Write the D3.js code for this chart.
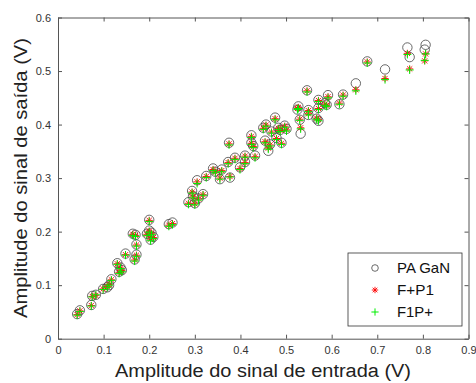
<!DOCTYPE html>
<html>
<head>
<meta charset="utf-8">
<script src="https://cdn.jsdelivr.net/npm/d3@7"></script>
<style>
  body { margin: 0; background: #fff; }
  text { font-family: "Liberation Sans", Arial, sans-serif; }
</style>
</head>
<body>
<div id="app"></div>
<script>
// input amplitude (V), shared by all series
const entrada = [
  0.042, 0.048, 0.073, 0.075, 0.083, 0.099, 0.108, 0.112, 0.117, 0.130,
  0.134, 0.137, 0.140, 0.148, 0.168, 0.172, 0.172, 0.164, 0.170, 0.200,
  0.200, 0.205, 0.209, 0.203, 0.195, 0.243, 0.251, 0.286, 0.294, 0.296,
  0.300, 0.308, 0.318, 0.305, 0.325, 0.340, 0.345, 0.359, 0.355, 0.377,
  0.375, 0.373, 0.388, 0.399, 0.410, 0.410, 0.424, 0.424, 0.428, 0.432,
  0.450, 0.456, 0.476, 0.483, 0.497, 0.454, 0.461, 0.465, 0.490, 0.479,
  0.468, 0.487, 0.501, 0.527, 0.525, 0.530, 0.532, 0.546, 0.549, 0.549,
  0.571, 0.571, 0.571, 0.567, 0.585, 0.592, 0.589, 0.617, 0.625, 0.653,
  0.678, 0.717, 0.766, 0.771, 0.806, 0.804
]
// measured output, PA GaN
const paGaN = [
  0.046, 0.053, 0.063, 0.080, 0.082, 0.093, 0.096, 0.100, 0.111, 0.141,
  0.125, 0.133, 0.128, 0.159, 0.148, 0.157, 0.176, 0.196, 0.194, 0.222,
  0.202, 0.198, 0.190, 0.185, 0.196, 0.214, 0.217, 0.255, 0.276, 0.266,
  0.253, 0.262, 0.270, 0.296, 0.304, 0.318, 0.312, 0.316, 0.298, 0.301,
  0.366, 0.330, 0.338, 0.320, 0.342, 0.330, 0.380, 0.366, 0.360, 0.342,
  0.394, 0.400, 0.413, 0.394, 0.398, 0.370, 0.351, 0.363, 0.366, 0.375,
  0.387, 0.390, 0.392, 0.434, 0.428, 0.409, 0.383, 0.464, 0.427, 0.418,
  0.446, 0.431, 0.407, 0.411, 0.440, 0.455, 0.437, 0.438, 0.456, 0.477,
  0.518, 0.503, 0.544, 0.526, 0.549, 0.540
]
// model F+P1
const fp1 = [
  0.045, 0.052, 0.062, 0.079, 0.081, 0.093, 0.097, 0.101, 0.110, 0.140,
  0.124, 0.132, 0.127, 0.157, 0.147, 0.156, 0.175, 0.195, 0.193, 0.221,
  0.201, 0.197, 0.189, 0.186, 0.195, 0.212, 0.215, 0.253, 0.274, 0.265,
  0.252, 0.261, 0.269, 0.293, 0.303, 0.316, 0.311, 0.314, 0.300, 0.303,
  0.364, 0.329, 0.337, 0.318, 0.341, 0.329, 0.378, 0.365, 0.359, 0.340,
  0.393, 0.399, 0.411, 0.393, 0.397, 0.368, 0.356, 0.362, 0.365, 0.374,
  0.386, 0.389, 0.390, 0.432, 0.430, 0.410, 0.394, 0.463, 0.426, 0.420,
  0.445, 0.430, 0.409, 0.412, 0.438, 0.452, 0.436, 0.440, 0.455, 0.465,
  0.517, 0.486, 0.533, 0.504, 0.532, 0.519
]
// model F1P+
const f1p = [
  0.044, 0.051, 0.061, 0.078, 0.082, 0.092, 0.096, 0.100, 0.109, 0.139,
  0.122, 0.131, 0.125, 0.156, 0.145, 0.154, 0.173, 0.193, 0.191, 0.219,
  0.199, 0.195, 0.187, 0.183, 0.193, 0.210, 0.213, 0.251, 0.272, 0.263,
  0.250, 0.259, 0.268, 0.290, 0.301, 0.314, 0.310, 0.312, 0.298, 0.302,
  0.362, 0.327, 0.335, 0.316, 0.339, 0.327, 0.376, 0.363, 0.357, 0.338,
  0.391, 0.397, 0.409, 0.391, 0.395, 0.366, 0.354, 0.360, 0.363, 0.372,
  0.384, 0.387, 0.388, 0.430, 0.428, 0.408, 0.392, 0.461, 0.424, 0.418,
  0.443, 0.428, 0.407, 0.410, 0.436, 0.450, 0.434, 0.438, 0.453, 0.463,
  0.515, 0.484, 0.531, 0.502, 0.532, 0.520
]
const xTicks = [0, 0.1, 0.2, 0.3, 0.4, 0.5, 0.6, 0.7, 0.8, 0.9]
const yTicks = [0, 0.1, 0.2, 0.3, 0.4, 0.5, 0.6]
const legendLabels = ["PA GaN", "F+P1", "F1P+"]

const W = 476, H = 383
const mLeft = 58, mTop = 17.5, mRight = 468.5, mBottom = 338.7
const axisColor = "#555"

const svg = d3.select("#app").append("svg")
  .attr("width", W)
  .attr("height", H)

const fx = d3.scaleLinear().domain([0, 0.9]).range([mLeft, mRight])
const fy = d3.scaleLinear().domain([0, 0.6]).range([mBottom, mTop])

const fmt = d => d === 0 ? "0" : d3.format(".1f")(d)

function styleAxis(g, showText) {
  g.select(".domain").attr("stroke", axisColor)
  g.selectAll(".tick line").attr("stroke", axisColor)
  g.selectAll(".tick text")
    .attr("fill", "#333")
    .attr("font-size", 11)
    .attr("font-family", "'Liberation Sans', Arial, sans-serif")
  if (!showText) g.selectAll(".tick text").remove()
}

svg.append("g")
    .attr("transform", `translate(0,${mBottom})`)
    .call(d3.axisBottom(fx).tickValues(xTicks).tickFormat(fmt).tickSizeInner(-4).tickSizeOuter(0).tickPadding(8))
    .call(g => styleAxis(g, true))
svg.append("g")
    .attr("transform", `translate(0,${mTop})`)
    .call(d3.axisTop(fx).tickValues(xTicks).tickSizeInner(-4).tickSizeOuter(0))
    .call(g => styleAxis(g, false))
svg.append("g")
    .attr("transform", `translate(${mLeft},0)`)
    .call(d3.axisLeft(fy).tickValues(yTicks).tickFormat(fmt).tickSizeInner(-4).tickSizeOuter(0).tickPadding(7))
    .call(g => styleAxis(g, true))
svg.append("g")
    .attr("transform", `translate(${mRight},0)`)
    .call(d3.axisRight(fy).tickValues(yTicks).tickSizeInner(-4).tickSizeOuter(0))
    .call(g => styleAxis(g, false))

// markers
const star = (cx, cy, r) => {
  let p = `M${cx - r},${cy}h${2 * r}M${cx},${cy - r}v${2 * r}`
  const d = r * 0.72
  p += `M${cx - d},${cy - d}l${2 * d},${2 * d}M${cx - d},${cy + d}l${2 * d},${-2 * d}`
  return p
}
const plus = (cx, cy, r) => `M${cx - r},${cy}h${2 * r}M${cx},${cy - r}v${2 * r}`

const plot = svg.append("g")

plot.append("g").selectAll("circle")
  .data(d3.range(entrada.length))
  .join("circle")
    .attr("cx", i => fx(entrada[i]))
    .attr("cy", i => fy(paGaN[i]))
    .attr("r", 4.7)
    .attr("fill", "none")
    .attr("stroke", "#444")
    .attr("stroke-width", 0.8)

plot.append("g").selectAll("path")
  .data(d3.range(entrada.length))
  .join("path")
    .attr("d", i => star(fx(entrada[i]), fy(fp1[i]), 3.6))
    .attr("stroke", "#ff0000")
    .attr("stroke-width", 0.9)
    .attr("fill", "none")

plot.append("g").selectAll("path")
  .data(d3.range(entrada.length))
  .join("path")
    .attr("d", i => plus(fx(entrada[i]), fy(f1p[i]), 4))
    .attr("stroke", "#00ee00")
    .attr("stroke-width", 1)
    .attr("fill", "none")

// axis titles
svg.append("text")
  .attr("x", 115)
  .attr("y", 377)
  .attr("font-size", 18)
  .attr("textLength", 296)
  .attr("lengthAdjust", "spacingAndGlyphs")
  .attr("fill", "#222")
  .text("Amplitude do sinal de entrada (V)")

svg.append("text")
  .attr("transform", `translate(27,318) rotate(-90)`)
  .attr("font-size", 18)
  .attr("textLength", 280)
  .attr("lengthAdjust", "spacingAndGlyphs")
  .attr("fill", "#222")
  .text("Amplitude do sinal de saída (V)")

// legend
const lg = svg.append("g").attr("transform", "translate(348,253)")
lg.append("rect")
  .attr("width", 114)
  .attr("height", 73)
  .attr("fill", "#fff")
  .attr("stroke", "#333")
  .attr("stroke-width", 0.8)

const ly = d3.scalePoint().domain(legendLabels).range([15, 59])
lg.append("circle")
  .attr("cx", 27).attr("cy", ly(legendLabels[0])).attr("r", 3.3)
  .attr("fill", "none").attr("stroke", "#444").attr("stroke-width", 0.8)
lg.append("path")
  .attr("d", star(27, ly(legendLabels[1]), 3.2))
  .attr("stroke", "#ff0000").attr("stroke-width", 0.9)
lg.append("path")
  .attr("d", plus(27, ly(legendLabels[2]), 3.6))
  .attr("stroke", "#00ee00").attr("stroke-width", 1)

const legendWidths = [53, 37, 36]
lg.selectAll("text.lab")
  .data(legendLabels)
  .join("text")
    .attr("class", "lab")
    .attr("x", 49)
    .attr("y", d => ly(d))
    .attr("dy", "0.36em")
    .attr("font-size", 14.5)
    .attr("textLength", (d, i) => legendWidths[i])
    .attr("lengthAdjust", "spacingAndGlyphs")
    .attr("fill", "#111")
    .text(d => d)
</script>
</body>
</html>
